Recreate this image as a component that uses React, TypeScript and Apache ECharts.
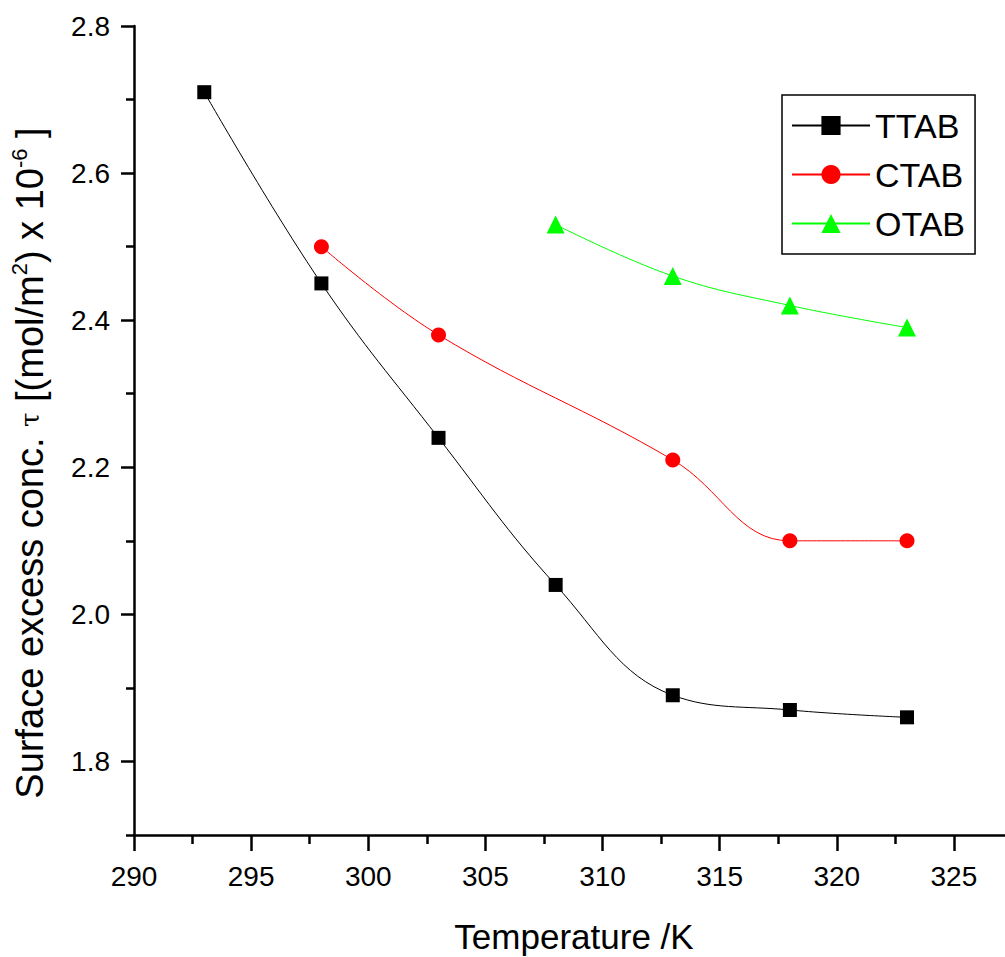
import React, { useEffect, useRef } from "react";
import * as echarts from "echarts";

const temps = [293, 298, 303, 308, 313, 318, 323];
const ttab = [2.71, 2.45, 2.24, 2.04, 1.89, 1.87, 1.86];
const ctabT = [298, 303, 313, 318, 323];
const ctab = [2.5, 2.38, 2.21, 2.1, 2.1];
const otabT = [308, 313, 318, 323];
const otab = [2.53, 2.46, 2.42, 2.39];

const yMajor = [1.8, 2.0, 2.2, 2.4, 2.6, 2.8];
const yMinor = [1.7, 1.9, 2.1, 2.3, 2.5, 2.7];
const xLabelsShown = [290, 295, 300, 305, 310, 315, 320, 325];

const FONT = "'Liberation Sans', Arial, sans-serif";

const pair = (xs: number[], ys: number[]) => xs.map((x, i) => [x, ys[i]]);

export default function App() {
  const ref = useRef<HTMLDivElement>(null);
  useEffect(() => {
    if (!ref.current) return;
    const chart = echarts.init(ref.current, null, { renderer: "svg" });
    const axisLine = { show: true, onZero: false, lineStyle: { color: "#000", width: 2.5 } };
    chart.setOption({
      animation: false,
      backgroundColor: "#fff",
      grid: { left: 134, right: -66, top: 26, bottom: 122, containLabel: false, outerBoundsMode: "none" },
      xAxis: [
        {
          type: "value",
          min: 290,
          max: 330,
          interval: 5,
          axisLine,
          axisTick: { show: true, length: 16, lineStyle: { color: "#000", width: 2.5 } },
          minorTick: { show: true, splitNumber: 2, length: 9, lineStyle: { color: "#000", width: 2.5 } },
          splitLine: { show: false },
          axisLabel: {
            margin: 27,
            fontSize: 28,
            fontFamily: FONT,
            color: "#000",
            formatter: (v: number) => (xLabelsShown.includes(v) ? String(v) : ""),
          },
        },
      ],
      yAxis: [
        {
          type: "value",
          min: 1.7,
          max: 2.8,
          axisLine,
          axisTick: { show: true, length: 13, customValues: yMajor, lineStyle: { color: "#000", width: 2.5 } },
          splitLine: { show: false },
          axisLabel: {
            margin: 24,
            fontSize: 28,
            fontFamily: FONT,
            color: "#000",
            customValues: yMajor,
            formatter: (v: number) => v.toFixed(1),
          },
        },
        {
          type: "value",
          min: 1.7,
          max: 2.8,
          position: "left",
          axisLine: { show: false },
          axisTick: { show: true, length: 8, customValues: yMinor, lineStyle: { color: "#000", width: 2.5 } },
          splitLine: { show: false },
          axisLabel: { show: false },
        },
      ],
      legend: {
        orient: "vertical",
        left: 782,
        top: 95,
        padding: [10, 10, 10, 9],
        itemGap: 8,
        itemWidth: 78,
        itemHeight: 24,
        borderColor: "#000",
        borderWidth: 1.5,
        textStyle: { fontSize: 34, fontFamily: FONT, color: "#000", lineHeight: 41 },
        data: ["TTAB", "CTAB", "OTAB"],
      },
      series: [
        {
          name: "TTAB",
          type: "line",
          data: pair(temps, ttab),
          smooth: 0.4,
          symbol: "rect",
          symbolSize: 14,
          color: "#000",
          lineStyle: { color: "#000", width: 1 },
          itemStyle: { color: "#000" },
        },
        {
          name: "CTAB",
          type: "line",
          data: pair(ctabT, ctab),
          smooth: 0.4,
          symbol: "circle",
          symbolSize: 15,
          color: "#ff0000",
          lineStyle: { color: "#ff0000", width: 1 },
          itemStyle: { color: "#ff0000" },
        },
        {
          name: "OTAB",
          type: "line",
          data: pair(otabT, otab),
          smooth: 0.4,
          symbol: "triangle",
          symbolSize: 18,
          color: "#00ff00",
          lineStyle: { color: "#00ff00", width: 1 },
          itemStyle: { color: "#00ff00" },
        },
      ],
      graphic: [
        {
          type: "text",
          x: 574,
          y: 936,
          style: {
            text: "Temperature /K",
            fontSize: 35,
            fontFamily: FONT,
            fill: "#000",
            align: "center",
            verticalAlign: "middle",
          },
        },
        {
          type: "text",
          x: 30,
          y: 463,
          rotation: Math.PI / 2,
          style: {
            text: "{n|Surface excess conc. }{t|τ}{n| [(mol/m}{s|2}{n|) x 10}{s|-6}{n| ]}",
            align: "center",
            verticalAlign: "middle",
            rich: {
              n: { fontSize: 38, fontFamily: FONT, fill: "#000", lineHeight: 44 },
              t: { fontSize: 26, fontFamily: "'DejaVu Serif', serif", fill: "#000", lineHeight: 44 },
              s: { fontSize: 22, fontFamily: FONT, fill: "#000", lineHeight: 22, verticalAlign: "top" },
            },
          },
        },
      ],
    });
    return () => chart.dispose();
  }, []);
  return (
    <div
      ref={ref}
      style={{ position: "fixed", left: 0, top: 0, width: 1005, height: 957 }}
    />
  );
}
